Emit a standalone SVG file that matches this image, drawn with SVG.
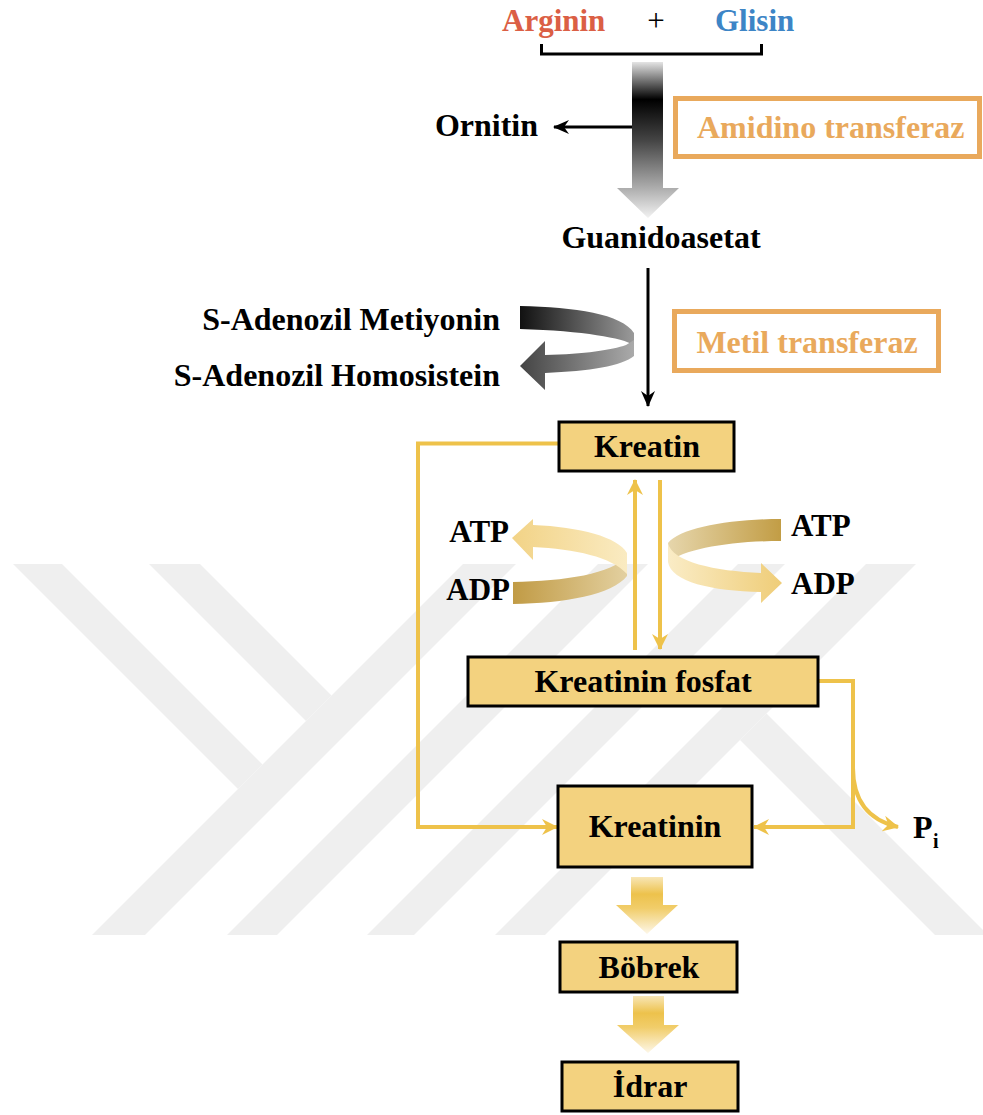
<svg xmlns="http://www.w3.org/2000/svg" width="983" height="1115" viewBox="0 0 983 1115">
<defs>
<style>
.t{font-family:"Liberation Serif","Times New Roman",serif;font-weight:bold;font-size:32px;fill:#000}
.s{font-size:31px}
.box{fill:#f3d27f;stroke:#000;stroke-width:3}
.enz{fill:none;stroke:#e9a95c;stroke-width:5}
.yl{fill:none;stroke:#eec24a;stroke-width:4}
.bl{fill:none;stroke:#000;stroke-width:3}
.wm{fill:#efefef}
</style>
<marker id="ab" viewBox="0 0 16 14" refX="15" refY="7" markerWidth="16" markerHeight="14" markerUnits="userSpaceOnUse" orient="auto">
<path d="M0,0 L16,7 L0,14 L5,7 Z" fill="#000"/>
</marker>
<marker id="ay" viewBox="0 0 16 16" refX="15" refY="8" markerWidth="16" markerHeight="16" markerUnits="userSpaceOnUse" orient="auto">
<path d="M0,0 L16,8 L0,16 L5,8 Z" fill="#eec24a"/>
</marker>
<linearGradient id="gArrow" x1="0" y1="0" x2="0" y2="1">
<stop offset="0" stop-color="#e4e4e4"/>
<stop offset="0.24" stop-color="#000"/>
<stop offset="0.5" stop-color="#444"/>
<stop offset="0.8" stop-color="#aaa"/>
<stop offset="1" stop-color="#f2f2f2"/>
</linearGradient>
<linearGradient id="yArrow" x1="0" y1="0" x2="0" y2="1">
<stop offset="0" stop-color="#f8e6b6"/>
<stop offset="0.3" stop-color="#edc24c"/>
<stop offset="0.55" stop-color="#f1cd6a"/>
<stop offset="1" stop-color="#fdf7e8"/>
</linearGradient>
<linearGradient id="grayUp" x1="0" y1="0" x2="1" y2="0">
<stop offset="0" stop-color="#111"/>
<stop offset="1" stop-color="#9a9a9a"/>
</linearGradient>
<linearGradient id="grayLo" x1="0" y1="0" x2="1" y2="0">
<stop offset="0" stop-color="#444"/>
<stop offset="1" stop-color="#aaa"/>
</linearGradient>
<linearGradient id="goldDarkL" x1="0" y1="0" x2="1" y2="0">
<stop offset="0" stop-color="#c19b45"/>
<stop offset="1" stop-color="#e3d0a0"/>
</linearGradient>
<linearGradient id="goldLightL" x1="0" y1="0" x2="1" y2="0">
<stop offset="0" stop-color="#f2d386"/>
<stop offset="1" stop-color="#faebc2"/>
</linearGradient>
<linearGradient id="goldDarkR" x1="0" y1="0" x2="1" y2="0">
<stop offset="0" stop-color="#e6d6ac"/>
<stop offset="1" stop-color="#c29d45"/>
</linearGradient>
<linearGradient id="goldLightR" x1="0" y1="0" x2="1" y2="0">
<stop offset="0" stop-color="#faecc6"/>
<stop offset="1" stop-color="#efcd78"/>
</linearGradient>
</defs>
<rect width="983" height="1115" fill="#fff"/>

<g id="watermark">
<polygon class="wm" points="13,564 62,564 262.5,764.5 238,789"/>
<polygon class="wm" points="149,564 200,564 331.5,695.5 306,721"/>
<polygon class="wm" points="92,935 145,935 516,564 463,564"/>
<polygon class="wm" points="227,935 277,935 648,564 598,564"/>
<polygon class="wm" points="367,935 414,935 785,564 738,564"/>
<polygon class="wm" points="495,935 545,935 916,564 866,564"/>
<polygon class="wm" points="766.5,713.5 740,740 935,935 988,935"/>
</g>

<g id="connectors">
<path d="M541.5,44 V54 H761.5 V44" class="bl" stroke-width="3.5"/>
<path d="M632,62 H663 V188 H679 L648,218 L617,188 H632 Z" fill="url(#gArrow)"/>
<line x1="632" y1="127" x2="554" y2="127" class="bl" marker-end="url(#ab)"/>
<line x1="648" y1="268" x2="648" y2="406" class="bl" marker-end="url(#ab)"/>
<path d="M520,306 C575,307 622,314 634,333 L634,345 C622,338 585,331 520,329 Z" fill="url(#grayUp)"/>
<path d="M634,340 L634,356 C622,366 590,371 545,373 L545,390 L520,366 L545,341 L545,355 C585,354 612,350 626,345 Z" fill="url(#grayLo)"/>
<polyline points="558,443.5 418,443.5 418,827 557,827" class="yl" marker-end="url(#ay)"/>
<line x1="635" y1="650" x2="635" y2="480" class="yl" marker-end="url(#ay)"/>
<line x1="660" y1="480" x2="660" y2="649" class="yl" marker-end="url(#ay)"/>
<path d="M513,582 C565,581 612,574 627,556 L627,576 C612,595 565,603 513,604 Z" fill="url(#goldDarkL)"/>
<path d="M627,553 L627,574 C612,557 575,549 533,547 L533,560 L512,538 L533,519 L533,525 C580,527 618,537 627,553 Z" fill="url(#goldLightL)"/>
<path d="M781,519 C730,519 680,528 668,543 L668,562 C685,549 730,541 781,541 Z" fill="url(#goldDarkR)"/>
<path d="M668,543 C672,562 715,571 761,573 L761,563 L782,583 L761,603 L761,592 C712,591 671,582 668,562 Z" fill="url(#goldLightR)"/>
<polyline points="818,681 853,681 853,827 754,827" class="yl" marker-end="url(#ay)"/>
<path d="M853,768 C853,800 868,820 898,827" class="yl" marker-end="url(#ay)"/>
<path d="M631,877 H663 V905 H678 L647,934 L616,905 H631 Z" fill="url(#yArrow)"/>
<path d="M633,996 H664 V1025 H679 L648,1053 L617,1025 H633 Z" fill="url(#yArrow)"/>
</g>

<g id="substrates">
<text class="t s" x="502" y="31" style="fill:#db5f45">Arginin</text>
<text x="656" y="31" text-anchor="middle" font-family="Liberation Serif, serif" font-size="31">+</text>
<text class="t s" x="715" y="31" style="fill:#3d85c6">Glisin</text>
</g>
<g id="ornitin"><text class="t" x="538" y="136" text-anchor="end">Ornitin</text></g>
<g id="amidino">
<rect x="675.5" y="98.5" width="304" height="58" class="enz"/>
<text class="t" x="697" y="138" style="fill:#e9a95c">Amidino transferaz</text>
</g>
<g id="guanidoasetat"><text class="t" x="661" y="248" text-anchor="middle">Guanidoasetat</text></g>
<g id="sam"><text class="t" x="500" y="330" text-anchor="end">S-Adenozil Metiyonin</text></g>
<g id="sah"><text class="t" x="500" y="386" text-anchor="end">S-Adenozil Homosistein</text></g>
<g id="metil">
<rect x="674.5" y="311.5" width="264" height="59" class="enz"/>
<text class="t" x="807" y="353" text-anchor="middle" style="fill:#e9a95c">Metil transferaz</text>
</g>
<g id="kreatin">
<rect x="559" y="422" width="175" height="49" class="box"/>
<text class="t" x="647" y="457" text-anchor="middle">Kreatin</text>
</g>
<g id="atp-adp-left">
<text class="t s" x="509" y="542" text-anchor="end">ATP</text>
<text class="t s" x="510" y="600" text-anchor="end">ADP</text>
</g>
<g id="atp-adp-right">
<text class="t s" x="791" y="536">ATP</text>
<text class="t s" x="791" y="594">ADP</text>
</g>
<g id="kreatinin-fosfat">
<rect x="468" y="657" width="350" height="49" class="box"/>
<text class="t" x="643" y="692" text-anchor="middle">Kreatinin fosfat</text>
</g>
<g id="kreatinin">
<rect x="558" y="786" width="194" height="81" class="box"/>
<text class="t" x="655" y="837" text-anchor="middle">Kreatinin</text>
</g>
<g id="pi">
<text class="t" x="913" y="838">P</text>
<text class="t" x="933" y="848" style="font-size:20px">i</text>
</g>
<g id="bobrek">
<rect x="560" y="942" width="177" height="50" class="box"/>
<text class="t" x="649" y="978" text-anchor="middle">Böbrek</text>
</g>
<g id="idrar">
<rect x="562" y="1062" width="176" height="49" class="box"/>
<text class="t" x="650" y="1097" text-anchor="middle">İdrar</text>
</g>
</svg>
